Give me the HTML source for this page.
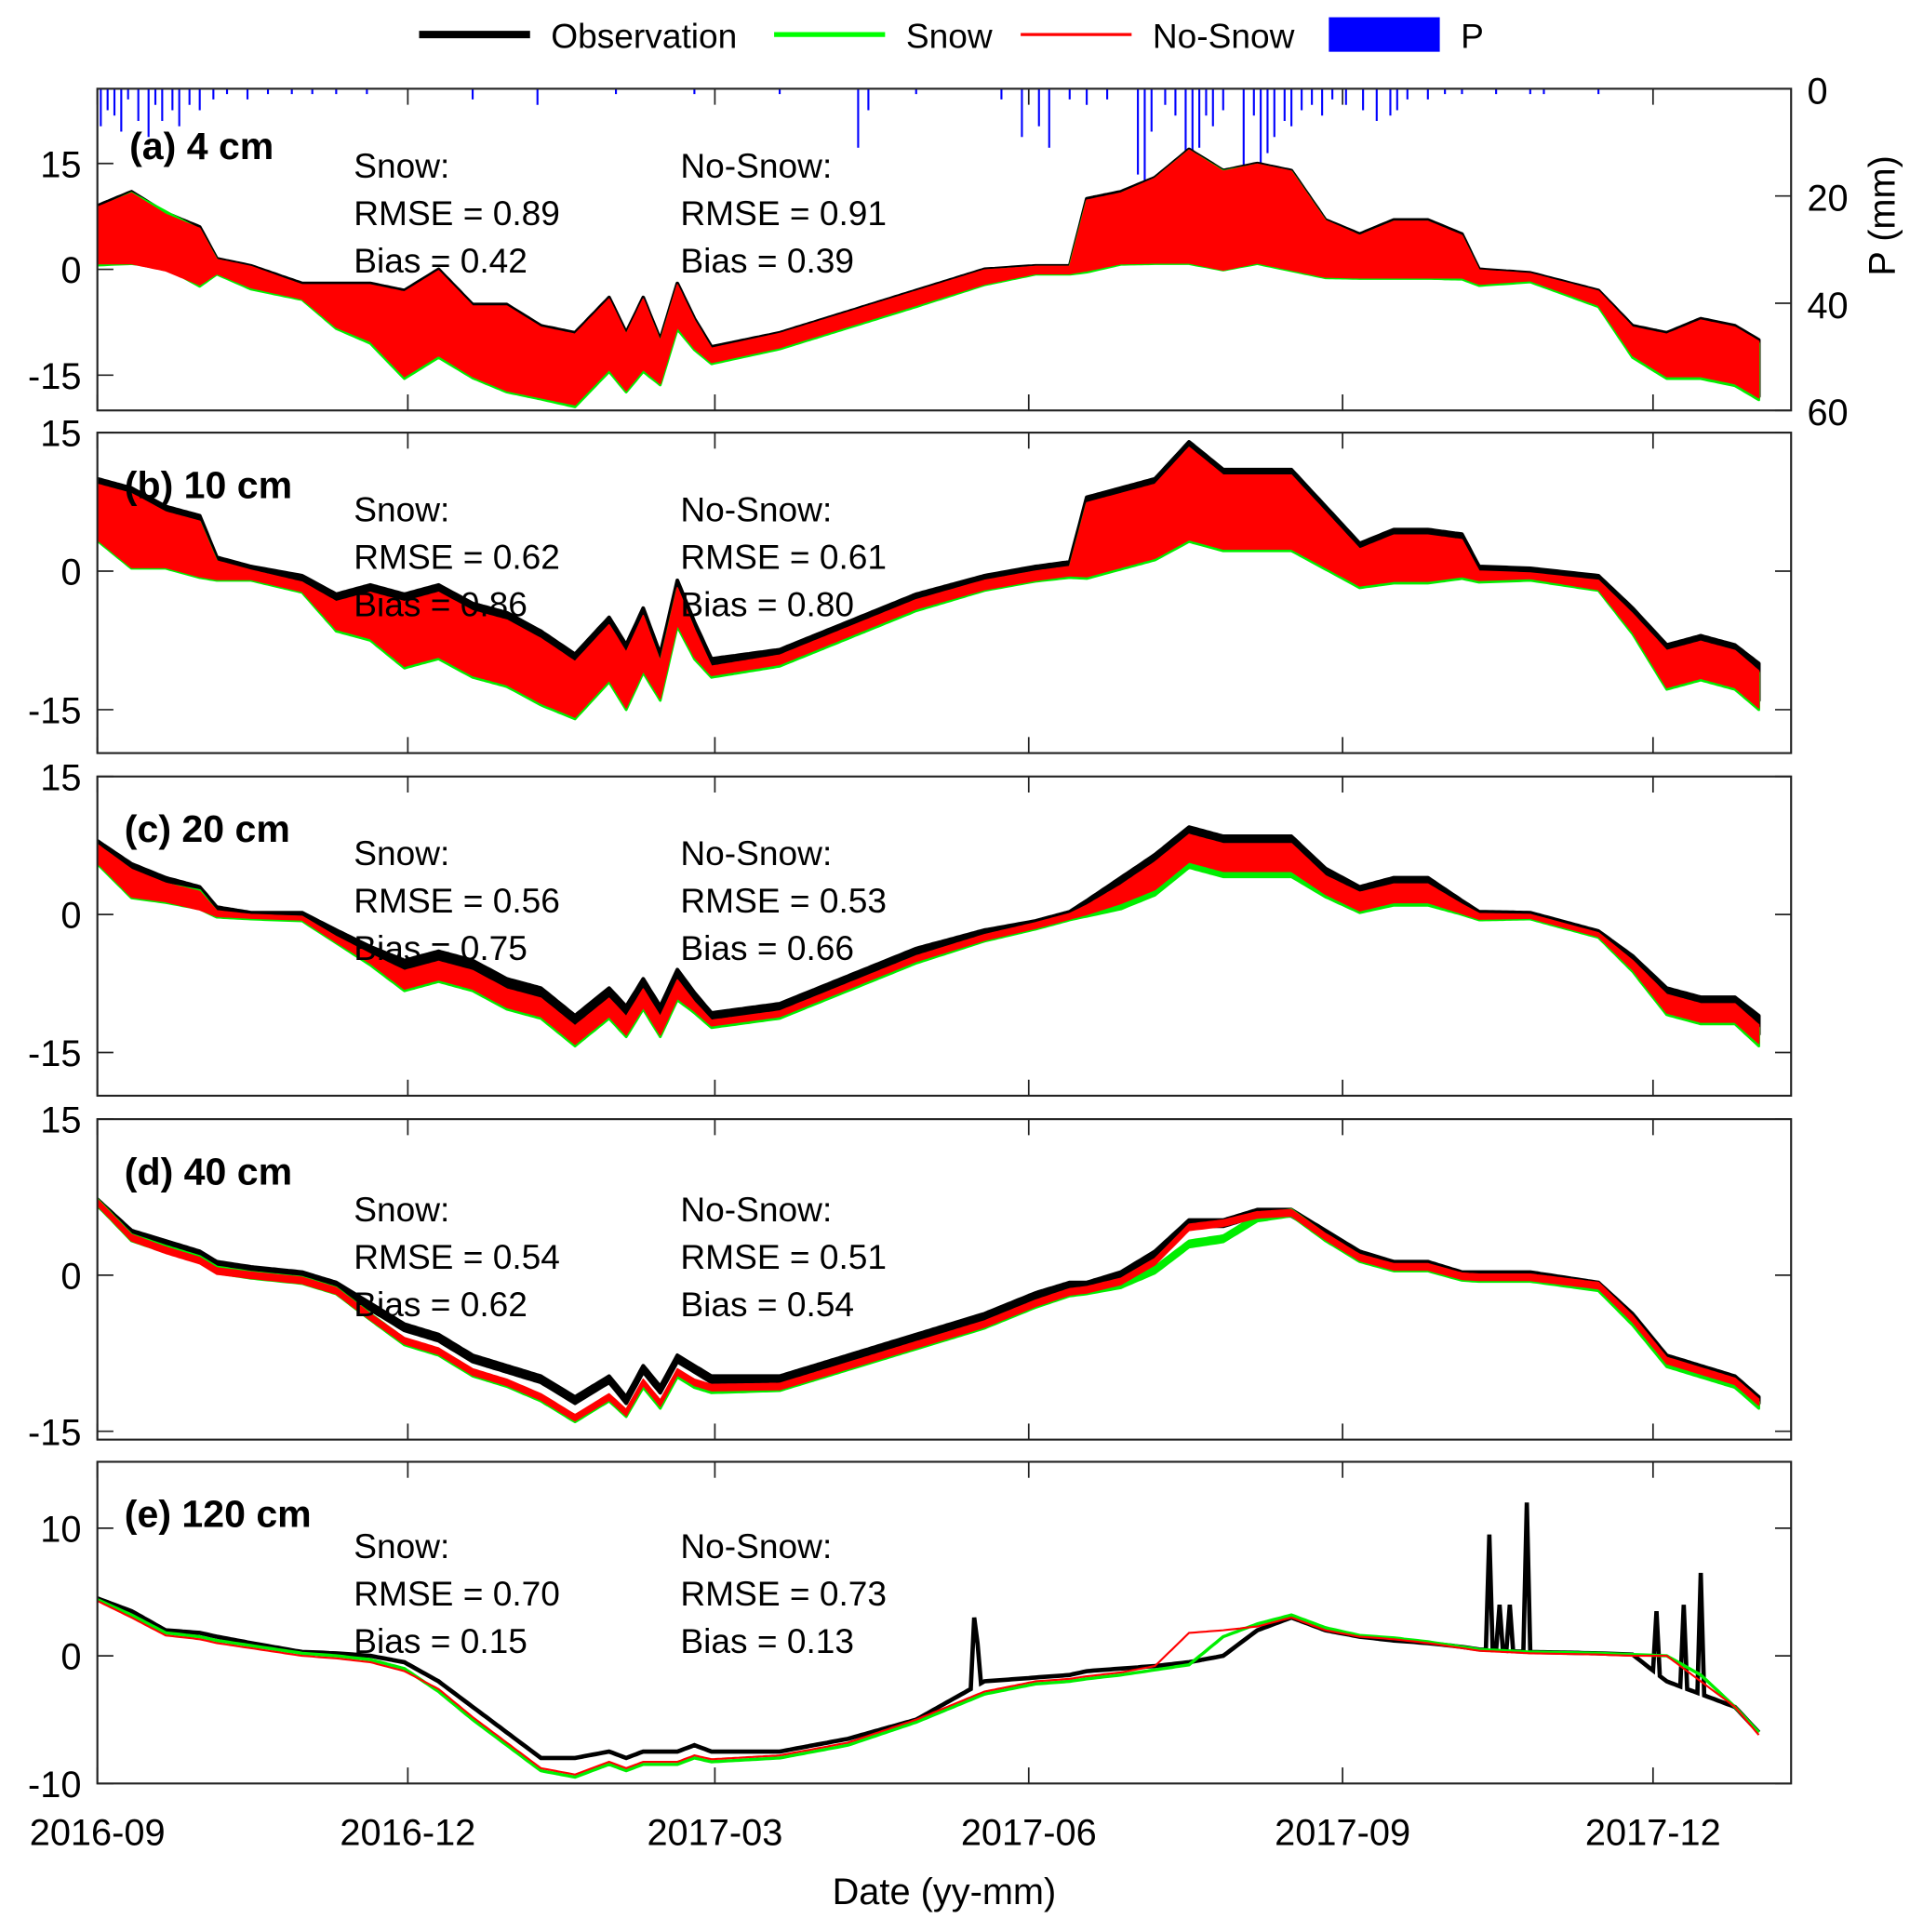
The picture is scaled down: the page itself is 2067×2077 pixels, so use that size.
<!DOCTYPE html>
<html><head><meta charset="utf-8">
<style>
html,body{margin:0;padding:0;background:#fff;}
svg{display:block;}
text{font-family:"Liberation Sans",Arial,sans-serif;fill:#000;}
</style></head>
<body>
<svg id="chart" width="2067" height="2077" viewBox="0 0 1560 1567.5" preserveAspectRatio="none" xmlns="http://www.w3.org/2000/svg">
<g id="legend">
  <line x1="340" y1="28" x2="430" y2="28" stroke="#000" stroke-width="6"/>
  <text x="447" y="39" font-size="28">Observation</text>
  <line x1="628" y1="28" x2="718" y2="28" stroke="#00ff00" stroke-width="4"/>
  <text x="735" y="39" font-size="28">Snow</text>
  <line x1="828" y1="28" x2="918" y2="28" stroke="#ff0000" stroke-width="2.5"/>
  <text x="935" y="39" font-size="28">No-Snow</text>
  <rect x="1078" y="14" width="90" height="28" fill="#0000ff"/>
  <text x="1185" y="39" font-size="28">P</text>
</g>
<g id="panels"></g>
<text x="766" y="1545" font-size="30" text-anchor="middle">Date (yy-mm)</text>
</svg>
<script>
// ---- data ----
const knotDays = [0,10,20,30,35,45,60,70,80,90,100,110,120,130,140,150,155,160,165,170,175,180,200,220,240,260,275,285,290,300,310,320,330,340,350,360,370,380,390,400,405,420,440,450,460,470,480,487];
const monthTicks = ["2016-09","2016-12","2017-03","2017-06","2017-09","2017-12"];
const monthTickDays = [0,91,181,273,365,456];

const obsA = [5,6,4,2,0.5,-1,-3,-5,-6,-9,-6,-10,-11,-13,-14,-9,-13,-9,-13,-5,-9,-12,-10,-7,-4,-1,0,0,5,6,7,9,7,8,7,3,2,3,3,2,-1,-1,-4,-10,-12,-11,-12,-14];
const snowA = [4.6,5.8,4.2,1.6,0.3,-1.3,-3.3,-5.4,-6.5,-9.5,-6.5,-10.4,-11.4,-13.4,-14.5,-9.5,-13.4,-9.5,-13.4,-5.5,-9.4,-12.4,-10.3,-7.3,-4.3,-1.2,-0.2,-0.2,4.6,5.7,6.8,8.8,6.9,7.8,6.8,2.8,1.7,2.7,2.7,1.6,-1.3,-1.3,-4.3,-10.5,-12.5,-11.5,-12.5,-14.5];
const noSnowA = [4.8,5.8,3.8,1.8,0.4,-1.1,-3.2,-5.2,-6.2,-9.2,-6.2,-10.2,-11.2,-13.2,-14.2,-9.2,-13.2,-9.2,-13.2,-5.2,-9.2,-12.2,-10.1,-7.1,-4.1,-1.1,-0.1,-0.1,4.8,5.8,6.9,8.9,6.9,7.9,6.9,2.9,1.8,2.8,2.8,1.8,-1.1,-1.1,-4.1,-10.2,-12.2,-11.2,-12.2,-14.2];
const ampA = [4,5,4,4,1,1.5,1,3,4,6,6,5,6,5,5,5,4,5,3,3,2,1,1,1,1,1,0.5,0.5,5,5,6,8,7,7,7,4,3,4,4,3,1,0.5,1,2,3,4,4,4];

const obsB = [7,5,4,3,0.5,0,-1,-4,-4,-6,-5,-7,-8,-10,-12,-8,-11,-7,-11,-3,-7,-10,-9,-6,-3,-1,0,0.5,4,5,6,9,7,7,7,4,1,2,2,2,0,0,-1,-5,-10,-9,-10,-12];
const snowB = [6.3,4.3,3.3,2.3,0,-0.5,-1.8,-5,-5,-7,-6,-8,-9,-11,-13,-9,-12,-8,-12,-4,-8,-11,-9.8,-6.8,-3.8,-1.6,-0.6,-0.2,3.2,4.2,5.2,8.2,6.2,6.2,6.2,3.2,0.2,1.2,1.2,1.2,-0.7,-0.7,-1.6,-5.8,-10.8,-9.8,-10.8,-13];
const noSnowB = [6.4,4.4,3.4,2.4,0.1,-0.4,-1.7,-4.8,-4.8,-6.8,-5.8,-7.8,-8.8,-10.8,-12.8,-8.8,-11.8,-7.8,-11.8,-3.8,-7.8,-10.8,-9.6,-6.6,-3.6,-1.5,-0.5,0,3.4,4.4,5.4,8.4,6.4,6.4,6.4,3.4,0.4,1.4,1.4,1.4,-0.5,-0.5,-1.5,-5.6,-10.6,-9.6,-10.6,-12.8];
const ampB = [3,4,3,3,1,0.5,0.5,1.5,2.5,3.5,3.5,3.5,3.5,3.5,3,3,3,3,2,2,1.5,0.5,0.5,0.5,0.5,0.5,0.5,0.5,4,4,4,5,4,4,4,3,2,2.5,2.5,2,0.5,0.3,0.5,1,2,2,2,2];

const obsC = [7,4,3,2,0.5,0,0,-2,-4,-6,-5,-6,-8,-9,-12,-9,-11,-8,-11,-7,-9,-11,-10,-7,-4,-2,-1,0,1,3,5,8,7,7,7,4,2,3,3,1,0,0,-2,-5,-9,-10,-10,-12];
const snowC = [6.5,3.3,2.3,1.6,0,-0.3,-0.5,-2.8,-5,-7.3,-6.3,-7.3,-9.3,-10.3,-13.3,-10.3,-12.3,-9.3,-12.3,-8.3,-10.2,-12,-11,-8,-5,-2.6,-1.3,-0.3,0.3,1.6,3.6,6.6,5.6,5.6,5.6,2.9,1.2,2,2,0.5,-0.3,-0.3,-2.3,-5.7,-9.9,-10.9,-10.9,-13.3];
const noSnowC = [6.6,3.4,2.4,1.5,0.1,-0.2,-0.4,-2.7,-4.8,-7.1,-6.1,-7.1,-9.1,-10.1,-13.1,-10.1,-12.1,-9.1,-12.1,-8.1,-10,-11.8,-10.8,-7.8,-4.8,-2.5,-1.2,-0.2,0.5,2.2,4.2,7.2,6.2,6.2,6.2,3.2,1.4,2.3,2.3,0.6,-0.2,-0.2,-2.2,-5.5,-9.7,-10.7,-10.7,-13];
const ampC = [1,1.5,1,1,0.3,0.2,0.2,0.3,0.5,1,1,1,1,1,1,1,1,1,1,1,0.5,0.3,0.3,0.3,0.3,0.3,0.3,0.3,0.5,1,1.5,1.5,1.5,1.5,1.5,1,1,1,1,0.5,0.3,0.2,0.2,0.5,1,1,1,1];

const obsD = [7,4,3,2,1,0.5,0,-1,-3,-5,-6,-8,-9,-10,-12,-10,-12,-9,-11,-8,-9,-10,-10,-8,-6,-4,-2,-1,-1,0,2,5,5,6,6,4,2,1,1,0,0,0,-1,-4,-8,-9,-10,-12];
const snowD = [7,3.6,2.5,1.5,0.5,0,-0.5,-1.5,-4,-6.4,-7.4,-9.4,-10.4,-11.8,-13.8,-11.8,-13.3,-10.5,-12.5,-9.5,-10.5,-11,-10.8,-8.8,-6.8,-4.8,-2.8,-1.7,-1.5,-0.9,0.5,3,3.5,5.5,6,3.6,1.6,0.7,0.7,-0.2,-0.3,-0.3,-1.2,-4.5,-8.5,-9.5,-10.5,-12.5];
const noSnowD = [7,3.6,2.4,1.4,0.4,0,-0.5,-1.5,-4,-6.3,-7.3,-9.3,-10.3,-11.7,-13.7,-11.7,-13.2,-10.3,-12.3,-9.3,-10.3,-10.8,-10.7,-8.7,-6.7,-4.7,-2.7,-1.6,-1.4,-0.6,1.3,4.6,5,5.8,6,3.7,1.7,0.8,0.8,-0.1,-0.2,-0.2,-1,-4.2,-8.2,-9.2,-10.2,-12.2];
const ampD = [0.3,0.3,0.3,0.3,0.3,0.3,0.3,0.3,0.3,0.3,0.3,0.3,0.3,0.3,0.3,0.3,0.3,0.3,0.3,0.3,0.3,0.3,0.3,0.3,0.3,0.3,0.3,0.3,0.3,0.3,0.3,0.3,0.3,0.3,0.3,0.3,0.3,0.3,0.3,0.3,0.3,0.3,0.3,0.3,0.3,0.3,0.3,0.3];

const obsE = [4.5,3.5,2,1.8,1.5,1,0.3,0.2,0,-0.5,-2,-4,-6,-8,-8,-7.5,-8,-7.5,-7.5,-7.5,-7,-7.5,-7.5,-6.5,-5,-2,-1.7,-1.5,-1.2,-1,-0.8,-0.5,0,2,3,2,1.5,1.2,1,0.7,0.5,0.3,0.2,0.1,-2,-3,-4,-6];
const snowE = [4.4,3.2,1.8,1.5,1.2,0.8,0.2,0,-0.3,-1,-2.8,-5,-7,-9,-9.5,-8.5,-9,-8.5,-8.5,-8.5,-8,-8.3,-8,-7,-5.2,-3,-2.2,-2,-1.8,-1.5,-1.1,-0.7,1.5,2.5,3.2,2.2,1.6,1.4,1.1,0.7,0.5,0.3,0.2,0.1,0,-1.5,-4,-6];
const noSnowE = [4.3,3,1.6,1.3,1,0.6,0,-0.2,-0.5,-1.2,-2.6,-4.8,-6.8,-8.8,-9.3,-8.3,-8.8,-8.3,-8.3,-8.3,-7.8,-8.1,-7.8,-6.8,-5,-2.8,-2,-1.8,-1.6,-1.3,-0.8,1.8,2,2.3,3,2,1.5,1.3,1,0.6,0.4,0.2,0.1,0,0,-2,-4,-6.2];
const ampE = [0,0,0,0,0,0,0,0,0,0,0,0,0,0,0,0,0,0,0,0,0,0,0,0,0,0,0,0,0,0,0,0,0,0,0,0,0,0,0,0,0,0,0,0,0,0,0,0];
const spikeDaysE = [257,258,408,411,414,419,457,465,470];
const spikeValsE = [3,1,9.5,4,4,12,3.5,4,6.5];

const precipDays = [1,3,5,7,9,12,15,17,19,22,24,27,30,34,38,44,50,57,63,70,79,110,129,152,175,200,223,226,240,265,271,276,279,285,290,296,305,307,309,313,316,319,321,323,325,327,330,336,339,341,343,345,348,350,353,356,359,362,366,371,375,379,381,384,390,395,400,410,420,424,440];
const precipMm = [7,4,5,8,2,6,9,3,6,4,7,3,4,2,1,2,1,1,1,1,1,2,3,1,1,1,11,4,1,2,9,7,11,2,3,2,16,25,8,3,5,15,20,11,5,7,4,18,5,22,12,9,6,7,4,3,5,2,3,4,6,5,4,2,2,1,1,1,1,1,1];

const panels = [
  {id:"a", label:"(a) 4 cm", top:72, bot:333, ymin:-20, ymax:25.6, ticks:[-15,0,15], obs:obsA, snow:snowA, noSnow:noSnowA, amp:ampA, stats:["0.89","0.42","0.91","0.39"]},
  {id:"b", label:"(b) 10 cm", top:351, bot:611, ymin:-19.7, ymax:15, ticks:[-15,0,15], obs:obsB, snow:snowB, noSnow:noSnowB, amp:ampB, stats:["0.62","0.86","0.61","0.80"]},
  {id:"c", label:"(c) 20 cm", top:630, bot:889, ymin:-19.7, ymax:15, ticks:[-15,0,15], obs:obsC, snow:snowC, noSnow:noSnowC, amp:ampC, stats:["0.56","0.75","0.53","0.66"]},
  {id:"d", label:"(d) 40 cm", top:908, bot:1168, ymin:-15.8, ymax:15, ticks:[-15,0,15], obs:obsD, snow:snowD, noSnow:noSnowD, amp:ampD, stats:["0.54","0.62","0.51","0.54"]},
  {id:"e", label:"(e) 120 cm", top:1186, bot:1447, ymin:-10, ymax:15.2, ticks:[-10,0,10], obs:obsE, snow:snowE, noSnow:noSnowE, amp:ampE, stats:["0.70","0.15","0.73","0.13"]}
];

// ---- drawing ----
const NS = "http://www.w3.org/2000/svg";
const X0 = 79, X1 = 1453, LASTDAY = 487;
const xScale = d => X0 + d * (1341 - 79) / 456;
function interp(arr, d){
  for (let i=0;i<knotDays.length-1;i++){
    if (d<=knotDays[i+1]){
      const t=(d-knotDays[i])/(knotDays[i+1]-knotDays[i]);
      return arr[i]+(arr[i+1]-arr[i])*t;
    }
  }
  return arr[arr.length-1];
}
function mk(tag, attrs, parent){
  const el=document.createElementNS(NS,tag);
  for (const k in attrs) el.setAttribute(k,attrs[k]);
  parent.appendChild(el);
  return el;
}
const root=document.getElementById("panels");

panels.forEach(p=>{
  const g=mk("g",{},root);
  
  
  const yScale=v=> p.bot - (v-p.ymin)/(p.ymax-p.ymin)*(p.bot-p.top);
  const clipId="clip"+p.id;
  const cp=mk("clipPath",{id:clipId},g);
  mk("rect",{x:X0,y:p.top,width:X1-X0,height:p.bot-p.top},cp);

  if (p.id==="a"){
    const pg=mk("g",{"clip-path":"url(#"+clipId+")"},g);
    
    
    const pScale=mm=> p.top + mm*(p.bot-p.top)/60;
    precipDays.forEach((d,i)=>{
      const b=mk("line",{x1:xScale(d),x2:xScale(d),y1:p.top,y2:pScale(precipMm[i]),stroke:"#0000ff","stroke-width":1.6},pg);
      
      
    });
  }

  const series = p.id==="e" ? [["obs","#000",3.5],["snow","#00ee00",2.6],["noSnow","#ff0000",1.6]]
                            : [["obs","#000",3],["snow","#00ee00",2.2],["noSnow","#ff0000",1.2]];
  series.forEach(([key,col,w])=>{
    const arr=p[key];
    let upper=[], lower=[];
    for (let d=0; d<=LASTDAY; d+=1){
      let v=interp(arr,d);
      const a=interp(p.amp,d);
      let hi=v+a, lo=v-a;
      if (p.id==="e" && key==="obs"){
        spikeDaysE.forEach((sd,si)=>{ if (sd===d){ hi=spikeValsE[si]; } });
      }
      upper.push(xScale(d).toFixed(1)+","+yScale(hi).toFixed(1));
      lower.push(xScale(d).toFixed(1)+","+yScale(lo).toFixed(1));
    }
    let pl;
    if (p.id==="e"){
      pl=mk("polyline",{points:upper.join(" "),fill:"none",stroke:col,"stroke-width":w,"stroke-linejoin":"miter","clip-path":"url(#"+clipId+")"},g);
    } else {
      const pts=upper.concat(lower.reverse()).join(" ");
      pl=mk("polygon",{points:pts,fill:col,stroke:col,"stroke-width":w,"stroke-linejoin":"round","clip-path":"url(#"+clipId+")"},g);
    }
    
    
  });

  const fr=mk("rect",{x:X0,y:p.top,width:X1-X0,height:p.bot-p.top,fill:"none",stroke:"#222","stroke-width":1.6},g);
  
  

  monthTickDays.forEach(d=>{
    const x=xScale(d);
    mk("line",{x1:x,x2:x,y1:p.bot,y2:p.bot-13,stroke:"#222","stroke-width":1.3},g);
    mk("line",{x1:x,x2:x,y1:p.top,y2:p.top+13,stroke:"#222","stroke-width":1.3},g);
  });
  p.ticks.forEach(t=>{
    const y=yScale(t);
    mk("line",{x1:X0,x2:X0+13,y1:y,y2:y,stroke:"#222","stroke-width":1.3},g);
    if (p.id!=="a") mk("line",{x1:X1,x2:X1-13,y1:y,y2:y,stroke:"#222","stroke-width":1.3},g);
    const tl=mk("text",{x:66,y:y+11,"font-size":30,"text-anchor":"end"},g);
    tl.textContent=String(t);
    
    
  });
  const lb=mk("text",{x:p.id==="a"?105:101,y:p.top+(p.id==="a"?57:53),"font-size":31,"font-weight":"bold"},g);
  lb.textContent=p.label;
  
  
  const sy = p.id==="e" ? p.top+78 : (p.id==="d"? p.top+83 : p.top+72);
  const lines=[["Snow:","No-Snow:"],["RMSE = "+p.stats[0],"RMSE = "+p.stats[2]],["Bias = "+p.stats[1],"Bias = "+p.stats[3]]];
  lines.forEach((ln,i)=>{
    const t1=mk("text",{x:287,y:sy+i*38.5,"font-size":28},g);
    t1.textContent=ln[0];
    
    
    const t2=mk("text",{x:552,y:sy+i*38.5,"font-size":28},g);
    t2.textContent=ln[1];
    
    
  });
  if (p.id==="a"){
    [0,20,40,60].forEach(mm=>{
      const y=p.top+mm*(p.bot-p.top)/60;
      mk("line",{x1:X1,x2:X1-13,y1:y,y2:y,stroke:"#222","stroke-width":1.3},g);
      const t=mk("text",{x:1466,y:y+12,"font-size":30},g);
      t.textContent=String(mm);
      
      
    });
    const at=mk("text",{x:0,y:0,"font-size":30,transform:"translate(1537,175) rotate(-90)","text-anchor":"middle"},g);
    at.textContent="P (mm)";
    
    
  }
  if (p.id==="e"){
    monthTickDays.forEach((d,i)=>{
      const t=mk("text",{x:xScale(d),y:p.bot+50,"font-size":30,"text-anchor":"middle"},g);
      t.textContent=monthTicks[i];
      
      
    });
  }
});
</script>
</body></html>
